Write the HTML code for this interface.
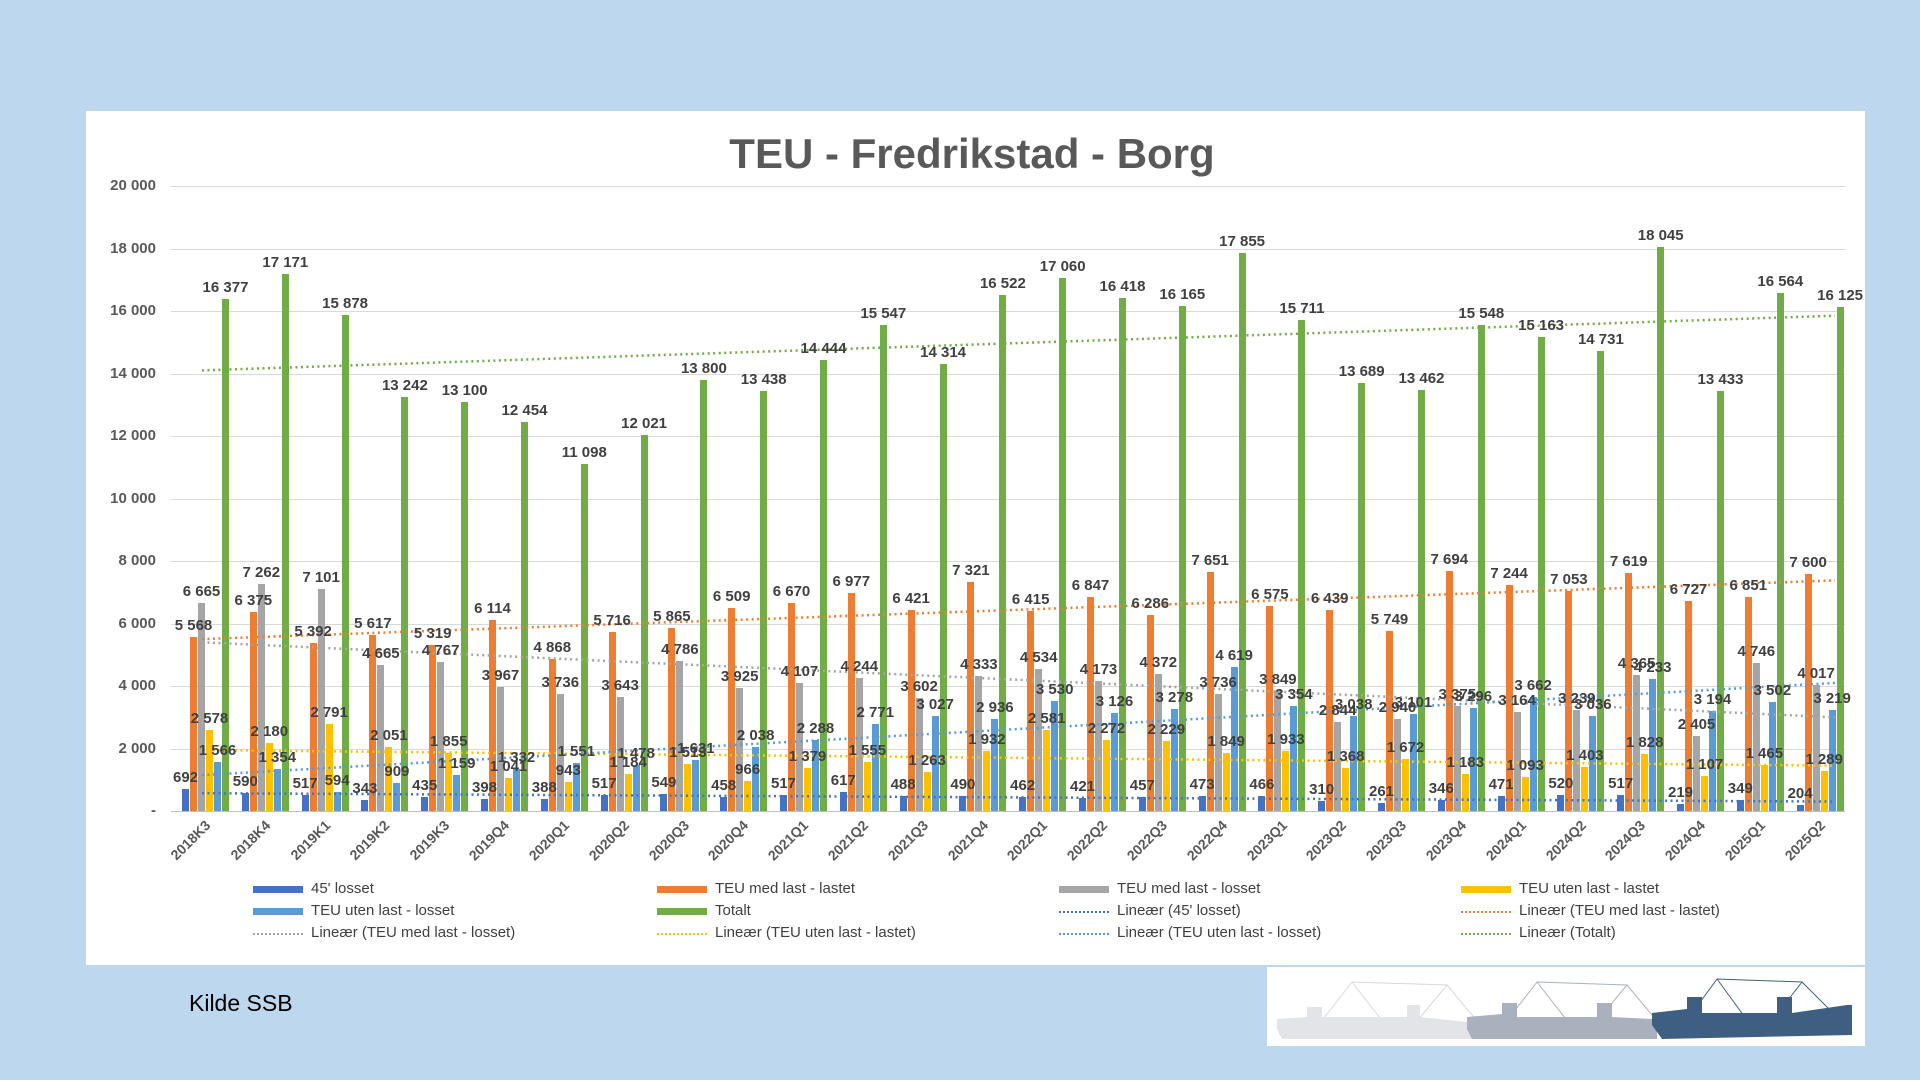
<!DOCTYPE html>
<html><head><meta charset="utf-8"><style>
*{margin:0;padding:0;box-sizing:border-box}
body{width:1920px;height:1080px;background:#bdd7ee;position:relative;overflow:hidden;font-family:"Liberation Sans",sans-serif}
#panel{position:absolute;left:86px;top:111px;width:1779px;height:854px;background:#fff}
#title{position:absolute;left:12px;width:1920px;top:130px;text-align:center;font-size:42px;font-weight:bold;color:#595959}
.yl{position:absolute;left:60px;width:96px;text-align:right;font-size:15px;font-weight:bold;color:#595959}
.gl{position:absolute;left:171px;width:1674px;height:1px;background:#d9d9d9}
#plot{position:absolute;left:171px;top:186px;width:1674px;height:625px}
.g{position:absolute;top:0;bottom:0;width:59.8px}
.g i{position:absolute;bottom:0;width:7px;height:calc(var(--v) * 100% / 20000)}
.g i b{position:absolute;z-index:5;bottom:100%;left:50%;transform:translate(-50%,-3px);font-size:15px;font-weight:bold;color:#404040;white-space:nowrap;font-style:normal}
.g i:nth-child(1){left:11px;background:#4472c4}
.g i:nth-child(2){left:19px;background:#ed7d31}
.g i:nth-child(3){left:27px;background:#a5a5a5}
.g i:nth-child(4){left:35px;background:#ffc000}
.g i:nth-child(5){left:43px;background:#5b9bd5}
.g i:nth-child(6){left:51px;background:#70ad47}
.g s{position:absolute;top:100%;right:calc(100% - 31px);margin-top:6px;transform-origin:right top;transform:rotate(-45deg);font-size:14px;font-weight:bold;color:#595959;text-decoration:none;white-space:nowrap}
#tr{position:absolute;left:0;top:0}
.lg{position:absolute;font-family:"Liberation Sans Narrow","Liberation Sans",sans-serif;font-size:15px;color:#404040;white-space:nowrap}
.sw{position:absolute;width:50px;height:7px}
.dl{position:absolute;width:50px;height:0;border-top:2px dotted}
#kilde{position:absolute;left:189px;top:990px;font-size:23px;color:#000}
#ship{position:absolute;left:1267px;top:967px;width:598px;height:79px;background:#fff}
</style></head><body>
<div id="panel"></div>
<div id="title">TEU - Fredrikstad - Borg</div>
<div class="gl" style="top:186px"></div><div class="gl" style="top:248.5px"></div><div class="gl" style="top:311px"></div><div class="gl" style="top:373.5px"></div><div class="gl" style="top:436px"></div><div class="gl" style="top:498.5px"></div><div class="gl" style="top:561px"></div><div class="gl" style="top:623.5px"></div><div class="gl" style="top:686px"></div><div class="gl" style="top:748.5px"></div><div class="gl" style="top:811px;background:#bfbfbf"></div>
<div class="yl" style="top:177px">20 000</div><div class="yl" style="top:240px">18 000</div><div class="yl" style="top:302px">16 000</div><div class="yl" style="top:365px">14 000</div><div class="yl" style="top:427px">12 000</div><div class="yl" style="top:490px">10 000</div><div class="yl" style="top:552px">8 000</div><div class="yl" style="top:615px">6 000</div><div class="yl" style="top:677px">4 000</div><div class="yl" style="top:740px">2 000</div><div class="yl" style="top:802px">-</div>
<div id="plot">
<div class="g" style="left:0px"><i style="--v:692"><b>692</b></i><i style="--v:5568"><b>5 568</b></i><i style="--v:6665"><b>6 665</b></i><i style="--v:2578"><b>2 578</b></i><i style="--v:1566"><b>1 566</b></i><i style="--v:16377"><b>16 377</b></i><s>2018K3</s></div>
<div class="g" style="left:59.8px"><i style="--v:590"><b>590</b></i><i style="--v:6375"><b>6 375</b></i><i style="--v:7262"><b>7 262</b></i><i style="--v:2180"><b>2 180</b></i><i style="--v:1354"><b>1 354</b></i><i style="--v:17171"><b>17 171</b></i><s>2018K4</s></div>
<div class="g" style="left:119.6px"><i style="--v:517"><b>517</b></i><i style="--v:5392"><b>5 392</b></i><i style="--v:7101"><b>7 101</b></i><i style="--v:2791"><b>2 791</b></i><i style="--v:594"><b>594</b></i><i style="--v:15878"><b>15 878</b></i><s>2019K1</s></div>
<div class="g" style="left:179.4px"><i style="--v:343"><b>343</b></i><i style="--v:5617"><b>5 617</b></i><i style="--v:4665"><b>4 665</b></i><i style="--v:2051"><b>2 051</b></i><i style="--v:909"><b>909</b></i><i style="--v:13242"><b>13 242</b></i><s>2019K2</s></div>
<div class="g" style="left:239.2px"><i style="--v:435"><b>435</b></i><i style="--v:5319"><b>5 319</b></i><i style="--v:4767"><b>4 767</b></i><i style="--v:1855"><b>1 855</b></i><i style="--v:1159"><b>1 159</b></i><i style="--v:13100"><b>13 100</b></i><s>2019K3</s></div>
<div class="g" style="left:299px"><i style="--v:398"><b>398</b></i><i style="--v:6114"><b>6 114</b></i><i style="--v:3967"><b>3 967</b></i><i style="--v:1041"><b>1 041</b></i><i style="--v:1332"><b>1 332</b></i><i style="--v:12454"><b>12 454</b></i><s>2019Q4</s></div>
<div class="g" style="left:358.8px"><i style="--v:388"><b>388</b></i><i style="--v:4868"><b>4 868</b></i><i style="--v:3736"><b>3 736</b></i><i style="--v:943"><b>943</b></i><i style="--v:1551"><b>1 551</b></i><i style="--v:11098"><b>11 098</b></i><s>2020Q1</s></div>
<div class="g" style="left:418.6px"><i style="--v:517"><b>517</b></i><i style="--v:5716"><b>5 716</b></i><i style="--v:3643"><b>3 643</b></i><i style="--v:1184"><b>1 184</b></i><i style="--v:1478"><b>1 478</b></i><i style="--v:12021"><b>12 021</b></i><s>2020Q2</s></div>
<div class="g" style="left:478.4px"><i style="--v:549"><b>549</b></i><i style="--v:5865"><b>5 865</b></i><i style="--v:4786"><b>4 786</b></i><i style="--v:1513"><b>1 513</b></i><i style="--v:1631"><b>1 631</b></i><i style="--v:13800"><b>13 800</b></i><s>2020Q3</s></div>
<div class="g" style="left:538.2px"><i style="--v:458"><b>458</b></i><i style="--v:6509"><b>6 509</b></i><i style="--v:3925"><b>3 925</b></i><i style="--v:966"><b>966</b></i><i style="--v:2038"><b>2 038</b></i><i style="--v:13438"><b>13 438</b></i><s>2020Q4</s></div>
<div class="g" style="left:598px"><i style="--v:517"><b>517</b></i><i style="--v:6670"><b>6 670</b></i><i style="--v:4107"><b>4 107</b></i><i style="--v:1379"><b>1 379</b></i><i style="--v:2288"><b>2 288</b></i><i style="--v:14444"><b>14 444</b></i><s>2021Q1</s></div>
<div class="g" style="left:657.8px"><i style="--v:617"><b>617</b></i><i style="--v:6977"><b>6 977</b></i><i style="--v:4244"><b>4 244</b></i><i style="--v:1555"><b>1 555</b></i><i style="--v:2771"><b>2 771</b></i><i style="--v:15547"><b>15 547</b></i><s>2021Q2</s></div>
<div class="g" style="left:717.6px"><i style="--v:488"><b>488</b></i><i style="--v:6421"><b>6 421</b></i><i style="--v:3602"><b>3 602</b></i><i style="--v:1263"><b>1 263</b></i><i style="--v:3027"><b>3 027</b></i><i style="--v:14314"><b>14 314</b></i><s>2021Q3</s></div>
<div class="g" style="left:777.4px"><i style="--v:490"><b>490</b></i><i style="--v:7321"><b>7 321</b></i><i style="--v:4333"><b>4 333</b></i><i style="--v:1932"><b>1 932</b></i><i style="--v:2936"><b>2 936</b></i><i style="--v:16522"><b>16 522</b></i><s>2021Q4</s></div>
<div class="g" style="left:837.2px"><i style="--v:462"><b>462</b></i><i style="--v:6415"><b>6 415</b></i><i style="--v:4534"><b>4 534</b></i><i style="--v:2581"><b>2 581</b></i><i style="--v:3530"><b>3 530</b></i><i style="--v:17060"><b>17 060</b></i><s>2022Q1</s></div>
<div class="g" style="left:897px"><i style="--v:421"><b>421</b></i><i style="--v:6847"><b>6 847</b></i><i style="--v:4173"><b>4 173</b></i><i style="--v:2272"><b>2 272</b></i><i style="--v:3126"><b>3 126</b></i><i style="--v:16418"><b>16 418</b></i><s>2022Q2</s></div>
<div class="g" style="left:956.8px"><i style="--v:457"><b>457</b></i><i style="--v:6286"><b>6 286</b></i><i style="--v:4372"><b>4 372</b></i><i style="--v:2229"><b>2 229</b></i><i style="--v:3278"><b>3 278</b></i><i style="--v:16165"><b>16 165</b></i><s>2022Q3</s></div>
<div class="g" style="left:1016.6px"><i style="--v:473"><b>473</b></i><i style="--v:7651"><b>7 651</b></i><i style="--v:3736"><b>3 736</b></i><i style="--v:1849"><b>1 849</b></i><i style="--v:4619"><b>4 619</b></i><i style="--v:17855"><b>17 855</b></i><s>2022Q4</s></div>
<div class="g" style="left:1076.4px"><i style="--v:466"><b>466</b></i><i style="--v:6575"><b>6 575</b></i><i style="--v:3849"><b>3 849</b></i><i style="--v:1933"><b>1 933</b></i><i style="--v:3354"><b>3 354</b></i><i style="--v:15711"><b>15 711</b></i><s>2023Q1</s></div>
<div class="g" style="left:1136.2px"><i style="--v:310"><b>310</b></i><i style="--v:6439"><b>6 439</b></i><i style="--v:2844"><b>2 844</b></i><i style="--v:1368"><b>1 368</b></i><i style="--v:3038"><b>3 038</b></i><i style="--v:13689"><b>13 689</b></i><s>2023Q2</s></div>
<div class="g" style="left:1196px"><i style="--v:261"><b>261</b></i><i style="--v:5749"><b>5 749</b></i><i style="--v:2940"><b>2 940</b></i><i style="--v:1672"><b>1 672</b></i><i style="--v:3101"><b>3 101</b></i><i style="--v:13462"><b>13 462</b></i><s>2023Q3</s></div>
<div class="g" style="left:1255.8px"><i style="--v:346"><b>346</b></i><i style="--v:7694"><b>7 694</b></i><i style="--v:3375"><b>3 375</b></i><i style="--v:1183"><b>1 183</b></i><i style="--v:3296"><b>3 296</b></i><i style="--v:15548"><b>15 548</b></i><s>2023Q4</s></div>
<div class="g" style="left:1315.6px"><i style="--v:471"><b>471</b></i><i style="--v:7244"><b>7 244</b></i><i style="--v:3164"><b>3 164</b></i><i style="--v:1093"><b>1 093</b></i><i style="--v:3662"><b>3 662</b></i><i style="--v:15163"><b>15 163</b></i><s>2024Q1</s></div>
<div class="g" style="left:1375.4px"><i style="--v:520"><b>520</b></i><i style="--v:7053"><b>7 053</b></i><i style="--v:3239"><b>3 239</b></i><i style="--v:1403"><b>1 403</b></i><i style="--v:3036"><b>3 036</b></i><i style="--v:14731"><b>14 731</b></i><s>2024Q2</s></div>
<div class="g" style="left:1435.2px"><i style="--v:517"><b>517</b></i><i style="--v:7619"><b>7 619</b></i><i style="--v:4365"><b>4 365</b></i><i style="--v:1828"><b>1 828</b></i><i style="--v:4233"><b>4 233</b></i><i style="--v:18045"><b>18 045</b></i><s>2024Q3</s></div>
<div class="g" style="left:1495px"><i style="--v:219"><b>219</b></i><i style="--v:6727"><b>6 727</b></i><i style="--v:2405"><b>2 405</b></i><i style="--v:1107"><b>1 107</b></i><i style="--v:3194"><b>3 194</b></i><i style="--v:13433"><b>13 433</b></i><s>2024Q4</s></div>
<div class="g" style="left:1554.8px"><i style="--v:349"><b>349</b></i><i style="--v:6851"><b>6 851</b></i><i style="--v:4746"><b>4 746</b></i><i style="--v:1465"><b>1 465</b></i><i style="--v:3502"><b>3 502</b></i><i style="--v:16564"><b>16 564</b></i><s>2025Q1</s></div>
<div class="g" style="left:1614.6px"><i style="--v:204"><b>204</b></i><i style="--v:7600"><b>7 600</b></i><i style="--v:4017"><b>4 017</b></i><i style="--v:1289"><b>1 289</b></i><i style="--v:3219"><b>3 219</b></i><i style="--v:16125"><b>16 125</b></i><s>2025Q2</s></div>
</div>
<svg id="tr" width="1920" height="1080" fill="none" stroke-width="2.5" stroke-dasharray="2 3.5">
<line x1="202" y1="370.4" x2="1835" y2="315.7" stroke="#70ad47"/>
<line x1="202" y1="639.1" x2="1835" y2="580.4" stroke="#ed7d31"/>
<line x1="202" y1="642.3" x2="1835" y2="717.3" stroke="#a5a5a5"/>
<line x1="202" y1="750.1" x2="1835" y2="765.7" stroke="#ffc000"/>
<line x1="202" y1="775.1" x2="1835" y2="682.9" stroke="#5b9bd5"/>
<line x1="202" y1="793.2" x2="1835" y2="801.6" stroke="#4472c4"/>
</svg>
<div class="sw" style="left:253px;top:886px;background:#4472c4"></div><div class="lg" style="left:311px;top:880px">45' losset</div>
<div class="sw" style="left:657px;top:886px;background:#ed7d31"></div><div class="lg" style="left:715px;top:880px">TEU med last - lastet</div>
<div class="sw" style="left:1059px;top:886px;background:#a5a5a5"></div><div class="lg" style="left:1117px;top:880px">TEU med last - losset</div>
<div class="sw" style="left:1461px;top:886px;background:#ffc000"></div><div class="lg" style="left:1519px;top:880px">TEU uten last - lastet</div>
<div class="sw" style="left:253px;top:908px;background:#5b9bd5"></div><div class="lg" style="left:311px;top:902px">TEU uten last - losset</div>
<div class="sw" style="left:657px;top:908px;background:#70ad47"></div><div class="lg" style="left:715px;top:902px">Totalt</div>
<div class="dl" style="left:1059px;top:911px;border-color:#4472c4"></div><div class="lg" style="left:1117px;top:902px">Lineær (45' losset)</div>
<div class="dl" style="left:1461px;top:911px;border-color:#ed7d31"></div><div class="lg" style="left:1519px;top:902px">Lineær (TEU med last - lastet)</div>
<div class="dl" style="left:253px;top:933px;border-color:#a5a5a5"></div><div class="lg" style="left:311px;top:924px">Lineær (TEU med last - losset)</div>
<div class="dl" style="left:657px;top:933px;border-color:#ffc000"></div><div class="lg" style="left:715px;top:924px">Lineær (TEU uten last - lastet)</div>
<div class="dl" style="left:1059px;top:933px;border-color:#5b9bd5"></div><div class="lg" style="left:1117px;top:924px">Lineær (TEU uten last - losset)</div>
<div class="dl" style="left:1461px;top:933px;border-color:#70ad47"></div><div class="lg" style="left:1519px;top:924px">Lineær (Totalt)</div>
<div id="kilde">Kilde SSB</div>
<div id="ship"><svg width="598" height="79">
<g stroke-width="1" fill="none"><path d="M85 15 L50 60 M85 15 L120 60 M85 15 L180 18 L215 60 M180 18 L145 60" stroke="#d5d8de"/><path d="M270 15 L235 60 M270 15 L305 60 M270 15 L360 18 L395 60 M360 18 L325 60" stroke="#a9b2c0"/><path d="M450 12 L415 60 M450 12 L485 60 M450 12 L535 15 L575 55 M535 15 L500 60" stroke="#40607f"/></g>
<polygon points="10,62 10,52 40,50 40,40 55,40 55,50 140,50 140,38 153,38 153,50 200,55 205,62 205,72 15,72" fill="#e2e4e8"/>
<polygon points="200,62 200,50 235,47 235,36 250,36 250,50 330,50 330,36 345,36 345,50 385,52 390,62 390,72 205,72" fill="#a9b1bf"/>
<polygon points="385,58 385,46 420,42 420,30 435,30 435,46 510,46 510,30 525,30 525,46 580,38 585,38 585,68 395,72" fill="#3f5f82"/>
</svg></div>
</body></html>
